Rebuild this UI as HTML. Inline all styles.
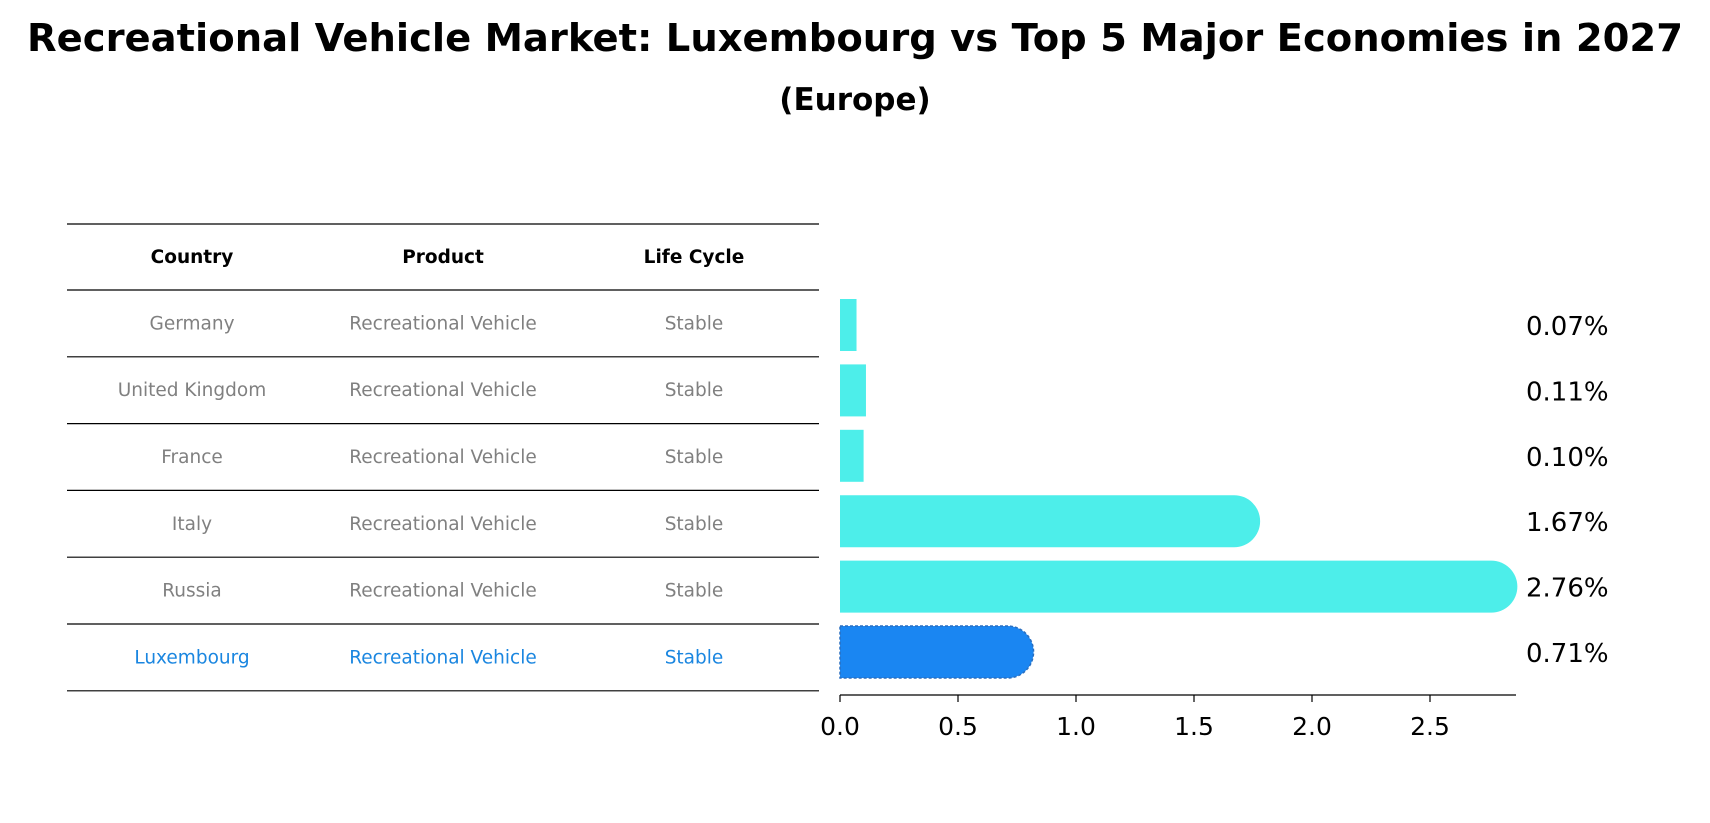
<!DOCTYPE html>
<html><head><meta charset="utf-8"><style>
html,body{margin:0;padding:0;background:#fff}
svg{display:block;font-family:"DejaVu Sans","Liberation Sans",sans-serif}
</style></head><body>
<svg id="chart" width="1710" height="823" viewBox="0 0 1710 823">
<text x="855" y="51" text-anchor="middle" font-size="38.5" font-weight="bold" fill="#000">Recreational Vehicle Market: Luxembourg vs Top 5 Major Economies in 2027</text>
<text x="855" y="110" text-anchor="middle" font-size="31" font-weight="bold" fill="#000">(Europe)</text>
<g id="table"></g>
<g id="bars"></g>
</svg>
<script>
const countries = ["Germany","United Kingdom","France","Italy","Russia","Luxembourg"];
const products = ["Recreational Vehicle","Recreational Vehicle","Recreational Vehicle","Recreational Vehicle","Recreational Vehicle","Recreational Vehicle"];
const lifeCycles = ["Stable","Stable","Stable","Stable","Stable","Stable"];
const values = [0.07,0.11,0.10,1.67,2.76,0.71];
const valueLabels = ["0.07%","0.11%","0.10%","1.67%","2.76%","0.71%"];
const ticks = [0,0.5,1.0,1.5,2.0,2.5];
const tickLabels = ["0.0","0.5","1.0","1.5","2.0","2.5"];

const NS="http://www.w3.org/2000/svg";
function mk(tag,attrs,parent){const e=document.createElementNS(NS,tag);for(const k in attrs)e.setAttribute(k,attrs[k]);parent.appendChild(e);return e;}
const x0=840, perUnit=236;
const xs=v=>x0+v*perUnit;
const rowTop=290, rowH=66.8;
const yc=i=>rowTop+rowH*i+rowH/2;
const yb=i=>325+65.4*i;
const table=document.getElementById('table');
const bars=document.getElementById('bars');
const cols=[192,443,694];
const hdrs=["Country","Product","Life Cycle"];
hdrs.forEach((h,j)=>{
  const t=mk('text',{x:cols[j],y:263,'text-anchor':'middle','font-size':18.5,'font-weight':'bold',fill:'#000'},table);
  t.textContent=h;
  
  
});
for(let i=0;i<=countries.length+1;i++){
  const y= i===0?224:rowTop+rowH*(i-1);
  const l=mk('line',{x1:67,x2:819,y1:y,y2:y,stroke:'#000','stroke-width':1.2},table);
  
  
}
countries.forEach((c,i)=>{
  const col = i===countries.length-1?'#1a86e0':'#808080';
  [c,products[i],lifeCycles[i]].forEach((s,j)=>{
    const t=mk('text',{x:cols[j],y:yc(i)+6,'text-anchor':'middle','font-size':18.5,fill:col},table);
    t.textContent=s;
    
    
  });
  const v=values[i], bh=52, top=yb(i)-bh/2, w=xs(v)-x0;
  const lux = i===countries.length-1;
  const fill = lux?'#1a86f2':'#4deeea';
  let el;
  if(v>0.3){
    const r=bh/2;
    el=mk('path',{d:`M${x0},${top} H${x0+w} A${r},${r} 0 0 1 ${x0+w},${top+bh} H${x0} Z`,fill:fill},bars);
    if(lux){el.setAttribute('stroke','#2a6fc0');el.setAttribute('stroke-dasharray','3,2');el.setAttribute('stroke-width','1.5');}
  } else {
    el=mk('rect',{x:x0,y:top,width:w,height:bh,fill:fill},bars);
  }
  
  
  const t=mk('text',{x:1526,y:yb(i)+10,'font-size':26,fill:'#000'},bars);
  t.textContent=valueLabels[i];
  
  
});
const ax=mk('line',{x1:x0,x2:1516,y1:695,y2:695,stroke:'#000','stroke-width':1.3},bars);


ticks.forEach((v,k)=>{
  const tl=mk('line',{x1:xs(v),x2:xs(v),y1:695,y2:702,stroke:'#000','stroke-width':1.2},bars);
  
  
  const t=mk('text',{x:xs(v),y:735,'text-anchor':'middle','font-size':25,fill:'#000'},bars);
  t.textContent=tickLabels[k];
  
  
});
</script>
</body></html>
